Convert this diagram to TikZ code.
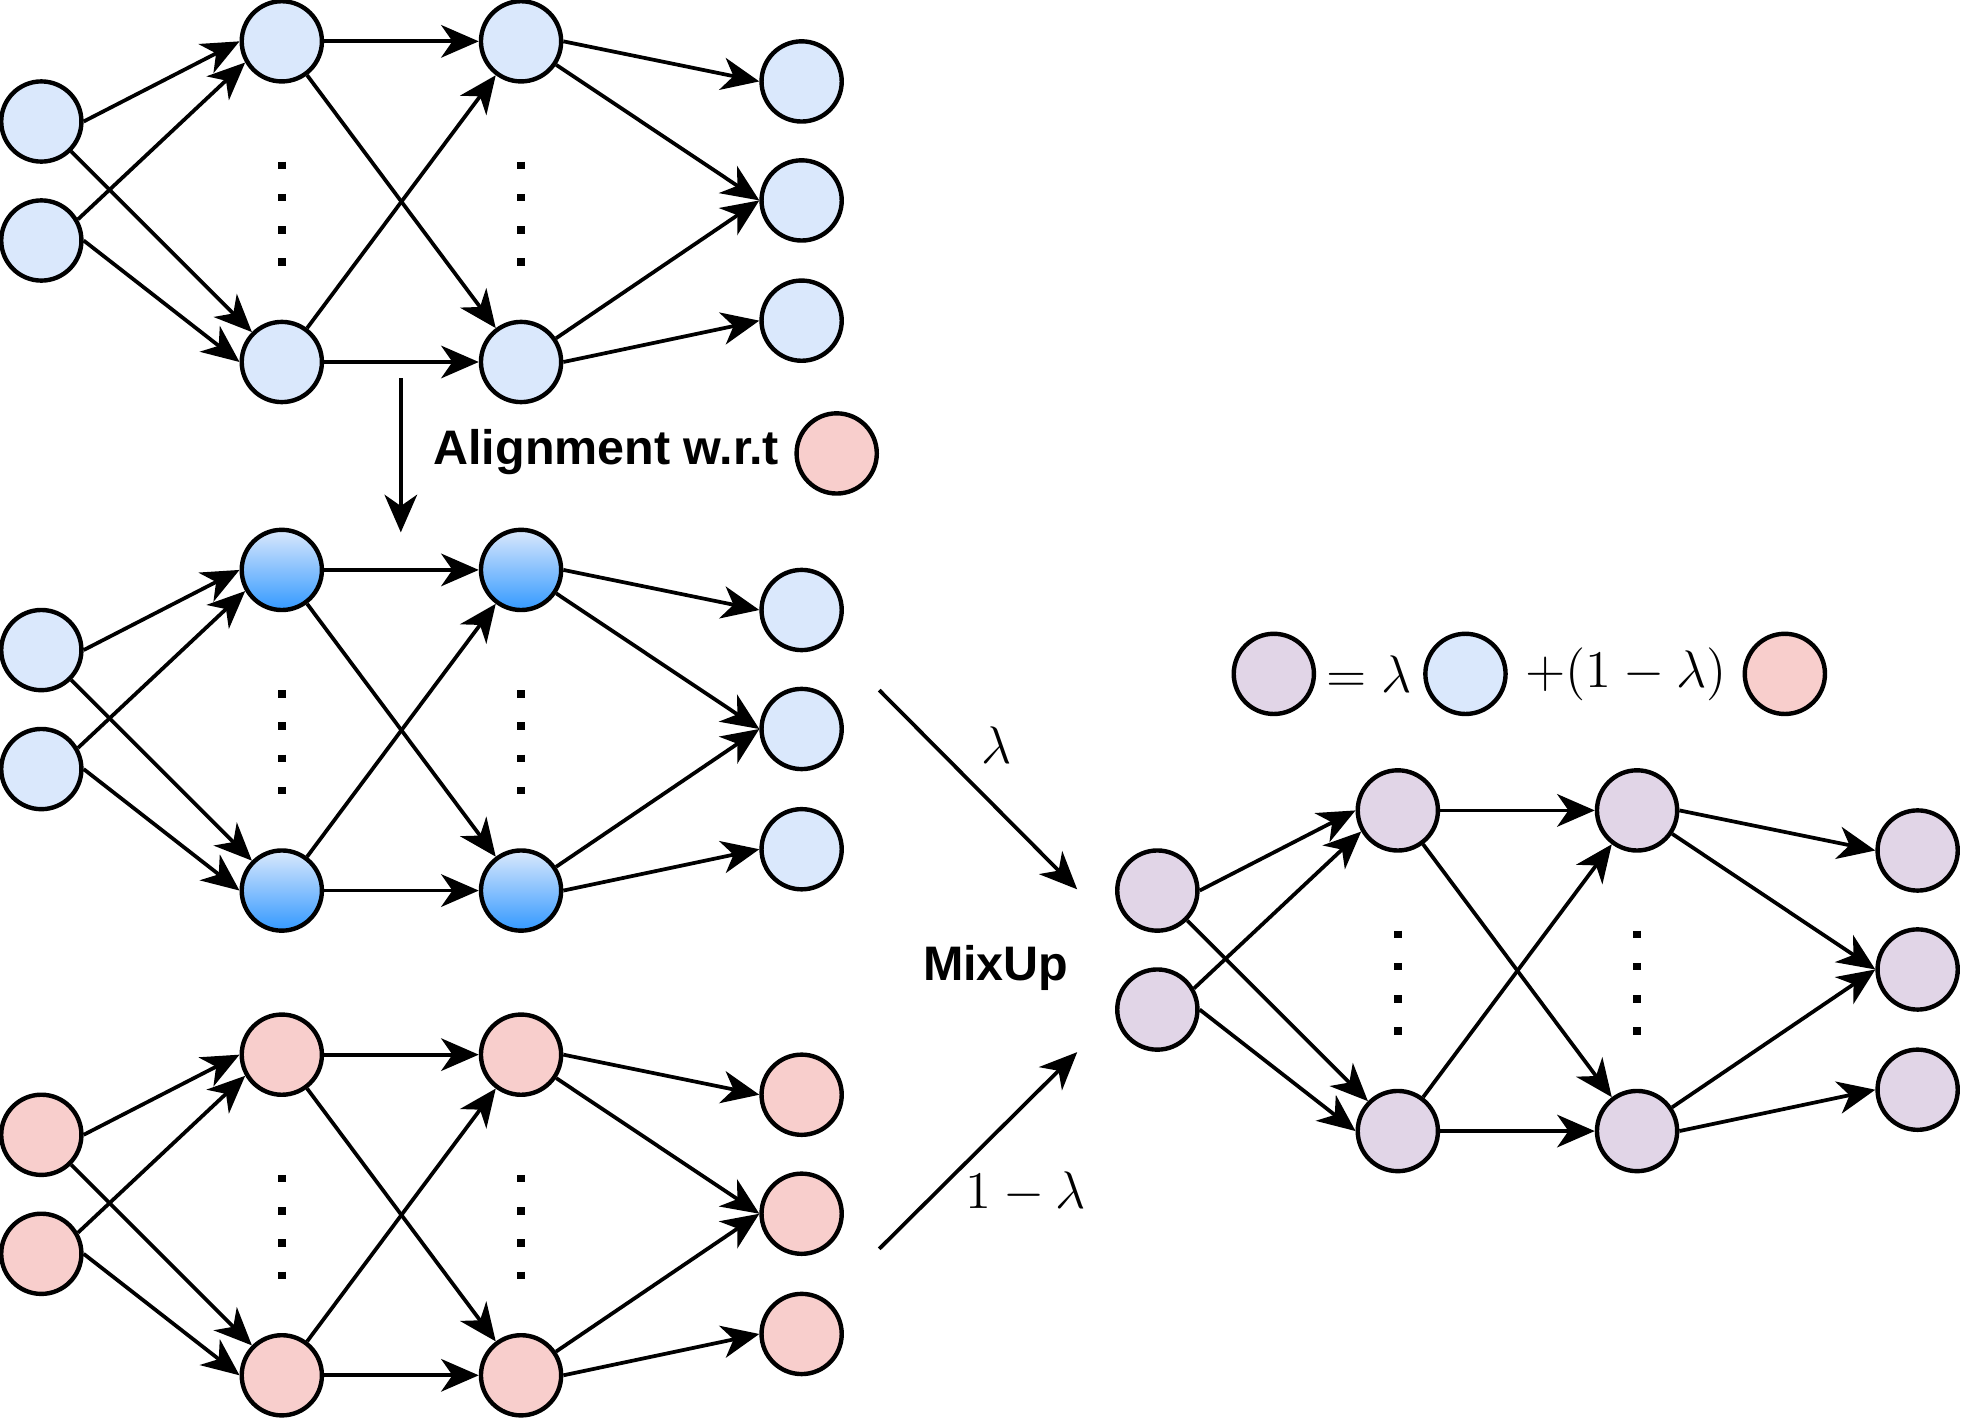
\documentclass[tikz,border=0pt]{standalone}
\usepackage{fontspec}
\newfontfamily\labelfont{Liberation Sans}
\definecolor{mixblue}{HTML}{DAE8FC}
\definecolor{mixpink}{HTML}{F8CECC}
\definecolor{mixpurple}{HTML}{E1D5E7}
\definecolor{gradblue}{HTML}{3399FF}
\usetikzlibrary{arrows.meta,calc}

\begin{document}
\begin{tikzpicture}[x=0.01cm, y=-0.01cm,
    every node/.style={font=\fontsize{12}{15}\selectfont},
    unit/.style={circle, draw, line width=1pt, minimum size=0.64cm, inner sep=0pt},
    blueunit/.style={unit, fill=mixblue},
    pinkunit/.style={unit, fill=mixpink},
    purpleunit/.style={unit, fill=mixpurple},
    alignedunit/.style={unit, top color=mixblue, bottom color=gradblue},
    link/.style={line width=0.85pt, -{Stealth[length=0.3cm, width=0.26cm, inset=0.09cm]}},
    vdots/.style={line width=0.06cm, dash pattern=on 0.06cm off 0.197cm},
    boldlabel/.style={font=\labelfont\bfseries\fontsize{11}{13}\selectfont, inner sep=0pt}]
    \useasboundingbox (0,0) rectangle (1568,1133.7);

    % Four networks: prefix / shift / outer layers / hidden layers
    \foreach \p/\dx/\dy/\io/\hid in {a/0/0/blueunit/blueunit, b/0/422/blueunit/alignedunit, c/0/809/pinkunit/pinkunit, d/891/614/purpleunit/purpleunit}{
    \begin{scope}[shift={(\dx,\dy)}]
        \node[\io] (\p-in1) at (33,97) {};
        \node[\io] (\p-in2) at (33,192) {};
        \node[\hid] (\p-h1a) at (225,33) {};
        \node[\hid] (\p-h1b) at (225,289) {};
        \node[\hid] (\p-h2a) at (416,33) {};
        \node[\hid] (\p-h2b) at (416,289) {};
        \node[\io] (\p-o1) at (640,65) {};
        \node[\io] (\p-o2) at (640,160) {};
        \node[\io] (\p-o3) at (640,256) {};
        \draw[vdots] (225,129) -- (225,213);
        \draw[vdots] (416,129) -- (416,213);

        \draw[link] (\p-in1.east) -- (\p-h1a.west);
        \draw[link] (\p-in2.30) -- (\p-h1a.210);
        \draw[link] (\p-in1) -- (\p-h1b);
        \draw[link] (\p-in2.east) -- (\p-h1b.west);
        \draw[link] (\p-h1a.east) -- (\p-h2a.west);
        \draw[link] (\p-h1a) -- (\p-h2b);
        \draw[link] (\p-h1b) -- (\p-h2a);
        \draw[link] (\p-h1b.east) -- (\p-h2b.west);
        \draw[link] (\p-h2a.east) -- (\p-o1.west);
        \draw[link] (\p-h2a) -- (\p-o2.west);
        \draw[link] (\p-h2b) -- (\p-o2.west);
        \draw[link] (\p-h2b.east) -- (\p-o3.west);
    \end{scope}
    }

    % Alignment step
    \coordinate (alignstart) at (320,302);
    \coordinate (alignend) at (320,425);
    \draw[link] (alignstart) -- (alignend);
    \node[boldlabel] (alignlbl) at (484,361) {Alignment w.r.t};
    \node[pinkunit] (alignref) at (668,362) {};

    % MixUp arrows
    \coordinate (lamstart) at (702,551);
    \coordinate (lamend) at (860,710);
    \draw[link] (lamstart) -- (lamend);
    \node (lamlbl) at (796,595) {$\lambda$};
    \coordinate (comstart) at (702,997);
    \coordinate (comend) at (860,840);
    \draw[link] (comstart) -- (comend);
    \node (comlbl) at (819,952) {$1-\lambda$};
    \node[boldlabel] (mixlbl) at (795,773) {MixUp};

    % Mixing rule
    \node[purpleunit] (eqmix) at (1017,538) {};
    \node (eqlam) at (1093,538) {$=\lambda$};
    \node[blueunit] (eqblue) at (1170,538) {};
    \node (eqrest) at (1298,538) {$+(1-\lambda)$};
    \node[pinkunit] (eqpink) at (1425,538) {};
\end{tikzpicture}
\end{document}
